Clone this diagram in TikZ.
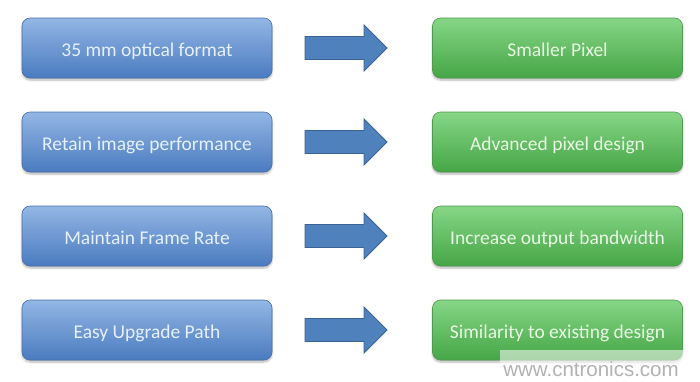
\documentclass[tikz,border=0pt]{standalone}
\usepackage{fontspec}
\setmainfont{Carlito}
\newfontfamily\wmfont{Liberation Sans}
\usetikzlibrary{shadows,shadows.blur}
\definecolor{bluetop}{HTML}{93B6E4}
\definecolor{bluebot}{HTML}{4A7BC0}
\definecolor{blueedge}{HTML}{4670A8}
\definecolor{greentop}{HTML}{86D686}
\definecolor{greenbot}{HTML}{46A646}
\definecolor{greenedge}{HTML}{4E9A4E}
\definecolor{arrowfill}{HTML}{4F81BD}
\definecolor{arrowedge}{HTML}{3A6293}
\definecolor{bluetext}{HTML}{E6F0FB}
\definecolor{greentext}{HTML}{E8F8E4}
\tikzset{
  basebox/.style={rounded corners=8pt, minimum width=250pt, minimum height=60pt,
    inner sep=0pt, text height=16pt, text depth=0pt, font=\fontsize{19.5}{22}\selectfont,
    blur shadow={shadow xshift=0pt, shadow yshift=-2pt, shadow blur steps=6, shadow opacity=30}},
  leftbox/.style={basebox, text=bluetext, top color=bluetop, bottom color=bluebot, draw=blueedge, line width=0.6pt},
  rightbox/.style={basebox, text=greentext, top color=greentop, bottom color=greenbot, draw=greenedge, line width=0.6pt},
  blockarrow/.style={fill=arrowfill, draw=arrowedge, line width=0.8pt, line join=miter}
}
\begin{document}
\begin{tikzpicture}[x=1pt,y=-1pt]
\useasboundingbox (0,0) rectangle (700,381);
\foreach \i/\l/\r in {0/35 mm optical format/Smaller Pixel,
                      1/Retain image performance/Advanced pixel design,
                      2/Maintain Frame Rate/Increase output bandwidth,
                      3/Easy Upgrade Path/Similarity to existing design}{
  \pgfmathsetmacro{\yc}{48+94*\i}
  \node[leftbox] (L\i) at (147,\yc) {\l};
  \node[rightbox] (R\i) at (557.5,\yc) {\r};
  \draw[blockarrow] (305,\yc-11.5) -- (364,\yc-11.5) -- (364,\yc-23) -- (387,\yc) -- (364,\yc+23) -- (364,\yc+11.5) -- (305,\yc+11.5) -- cycle;
}
\fill[white, opacity=0.55] (500,350) rectangle (700,381);
\node[text=black!30, font=\wmfont\fontsize{20.5}{22}\selectfont, anchor=base, inner sep=0pt] (wm) at (591,376) {www.cntronics.com};
\end{tikzpicture}
\end{document}
